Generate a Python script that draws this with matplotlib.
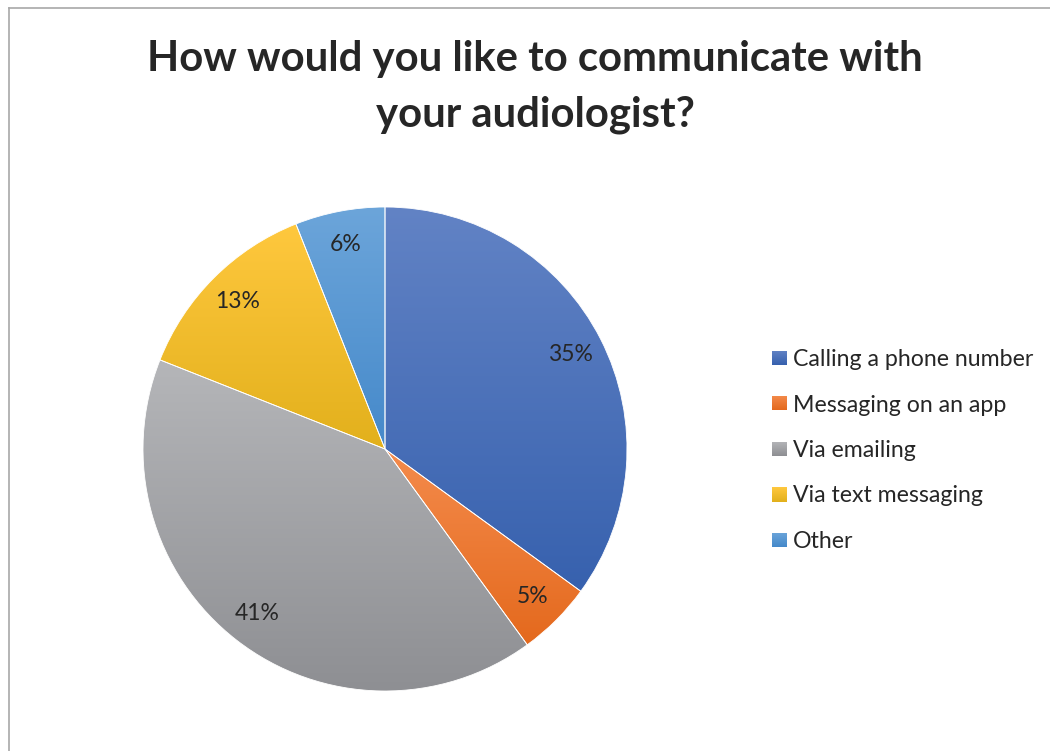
import numpy as np
import matplotlib
matplotlib.use("Agg")
import matplotlib.pyplot as plt
from matplotlib.lines import Line2D
from matplotlib.colors import to_rgb

categories = ["Calling a phone number", "Messaging on an app", "Via emailing",
              "Via text messaging", "Other"]
shares = [35, 5, 41, 13, 6]
# (top, bottom) colours of each slice's vertical gradient
top_colors = ["#6283C5", "#F48B4C", "#B5B6B9", "#FFC83E", "#6CA5DA"]
bottom_colors = ["#3761AE", "#E4691D", "#8E8F93", "#E2B01C", "#4589CA"]
title_lines = ["How would you like to communicate with", "your audiologist?"]

W, H = 1050, 751
fig = plt.figure(figsize=(W / 100, H / 100), dpi=100)
fig.patch.set_facecolor("white")

FONT = "Lato"
TXT = "#262626"

# chart frame (left and top edges visible)
fig.add_artist(Line2D([9 / W, 9 / W], [0, 1 - 8 / H], color="#A8A8A8", lw=1.2))
fig.add_artist(Line2D([9 / W, 1], [1 - 8 / H, 1 - 8 / H], color="#A8A8A8", lw=1.2))

# title
fig.text(535 / W, 1 - 71 / H, title_lines[0], ha="center", va="baseline",
         fontsize=30.2, fontweight="bold", family=FONT, color=TXT)
fig.text(535 / W, 1 - 127 / H, title_lines[1], ha="center", va="baseline",
         fontsize=30.2, fontweight="bold", family=FONT, color=TXT)

# pie axes
cx, cy, r = 385, 449, 242
ax = fig.add_axes([(cx - r) / W, (H - cy - r) / H, 2 * r / W, 2 * r / H])
wedges, _, autotexts = ax.pie(
    shares, startangle=90, counterclock=False, radius=1,
    colors=top_colors, autopct="%d%%", pctdistance=0.86,
    wedgeprops=dict(linewidth=0),
    textprops=dict(fontsize=16.5, family=FONT, color=TXT))

for w, c0, c1 in zip(wedges, top_colors, bottom_colors):
    ext = w.get_path().get_extents()
    t = np.linspace(0, 1, 256)[:, None]
    grad = (1 - t) * np.array(to_rgb(c0)) + t * np.array(to_rgb(c1))
    im = ax.imshow(grad[:, None, :], extent=(ext.x0, ext.x1, ext.y0, ext.y1),
                   origin="upper", interpolation="bilinear", aspect="auto", zorder=1)
    im.set_clip_path(w)
    w.set_facecolor("none")
    w.set_edgecolor("white")
    w.set_linewidth(0.6)
    w.set_zorder(2)

for t in autotexts:
    t.set_zorder(3)

ax.set_xlim(-1, 1)
ax.set_ylim(-1, 1)
ax.set_aspect("auto")
ax.axis("off")

# legend
rows_y = [366, 411.5, 457, 502.5, 548]
for name, c0, c1, yb in zip(categories, top_colors, bottom_colors, rows_y):
    sq = fig.add_axes([772 / W, (H - yb + 1) / H, 14.5 / W, 14.5 / H])
    g = np.linspace(0, 1, 32)[:, None]
    sq.imshow(((1 - g) * np.array(to_rgb(c0)) + g * np.array(to_rgb(c1)))[:, None, :],
              aspect="auto", interpolation="bilinear")
    sq.axis("off")
    fig.text(793 / W, 1 - yb / H, name, ha="left", va="baseline",
             fontsize=16.7, family=FONT, color=TXT)

fig.savefig("out.png", dpi=100, facecolor="white")
